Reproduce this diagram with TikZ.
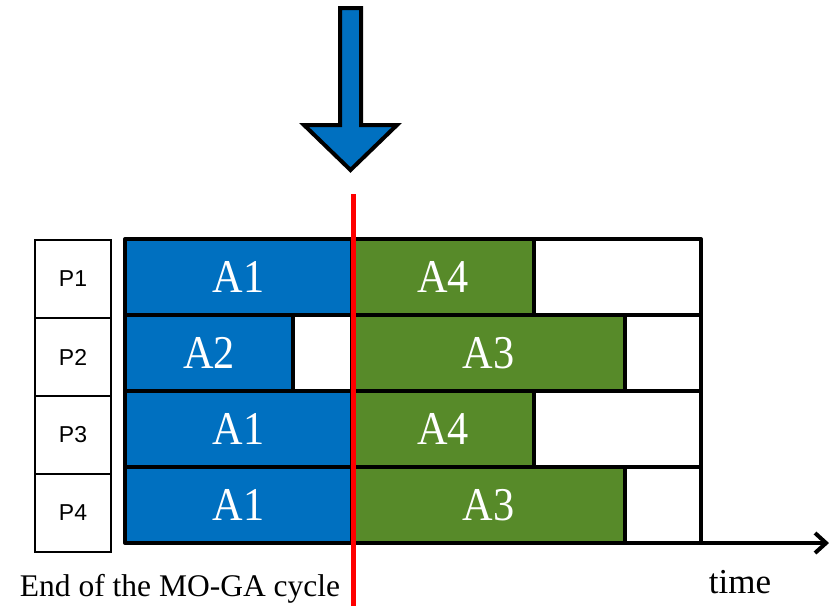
\documentclass[tikz,border=0pt]{standalone}
\usepackage{fontspec}
\setmainfont{Liberation Serif}
\setsansfont{Liberation Sans}
\newfontfamily\jobfont[FakeStretch=0.9]{Liberation Serif}
\usetikzlibrary{arrows.meta}
\usetikzlibrary{positioning}

\definecolor{jobblue}{HTML}{0070C0}
\definecolor{jobgreen}{HTML}{578A29}

\begin{document}
\begin{tikzpicture}[x=1pt,y=-1pt]
		\tikzset{
			job/.style={fill=#1, draw=black, line width=4pt, line join=round, inner sep=0pt, outer sep=0pt,
				minimum height=76, text=white, font=\jobfont\fontsize{47}{47}\selectfont},
			proc/.style={draw=black, line width=1.5pt, inner sep=0pt, outer sep=0pt,
				minimum width=76, minimum height=78, font=\sffamily\fontsize{23}{23}\selectfont},
		}
		\useasboundingbox (0,0) rectangle (829,606);
		% processor labels
		\node[proc, anchor=north west] (p1) at (35,240) {P1};
		\node[proc, below=0pt of p1] (p2) {P2};
		\node[proc, below=0pt of p2] (p3) {P3};
		\node[proc, below=0pt of p3] (p4) {P4};
		% schedule rows
		\node[job=jobblue, minimum width=227, anchor=north west] (r1a) at (125,239) {A1};
		\node[job=jobgreen, minimum width=182, right=0pt of r1a] (r1b) {A4};
		\node[job=white, minimum width=167, right=0pt of r1b] (r1c) {};
		\node[job=jobblue, minimum width=168, below right=0pt of r1a.south west] (r2a) {A2};
		\node[job=white, minimum width=59, right=0pt of r2a] (r2b) {};
		\node[job=jobgreen, minimum width=273, right=0pt of r2b] (r2c) {A3};
		\node[job=white, minimum width=76, right=0pt of r2c] (r2d) {};
		\node[job=jobblue, minimum width=227, below right=0pt of r2a.south west] (r3a) {A1};
		\node[job=jobgreen, minimum width=182, right=0pt of r3a] (r3b) {A4};
		\node[job=white, minimum width=167, right=0pt of r3b] (r3c) {};
		\node[job=jobblue, minimum width=227, below right=0pt of r3a.south west] (r4a) {A1};
		\node[job=jobgreen, minimum width=273, right=0pt of r4a] (r4b) {A3};
		\node[job=white, minimum width=76, right=0pt of r4b] (r4c) {};
		% time axis
		\coordinate (tend) at (829,543);
		\draw[line width=4pt, -{Straight Barb[length=11pt,width=20pt]}] (r4c.south east) -- (tend);
		\node[font=\fontsize{35}{35}\selectfont] (timelabel) at (740,582) {time};
		% cut at the end of the cycle
		\coordinate (cuttop) at (353,194);
		\coordinate (cutbot) at (353,606);
		\draw[red, line width=5pt] (cuttop) -- (cutbot);
		\node[font=\fontsize{31.5}{31.5}\selectfont] (endlabel) at (180,589) {End of the MO-GA cycle};
		% big arrow
		\draw[fill=jobblue, line width=4pt, line join=miter]
			(340,8) -- (361,8) -- (361,125) -- (397,125) -- (350.5,170) -- (304,125) -- (340,125) -- cycle;
	\end{tikzpicture}
\end{document}
